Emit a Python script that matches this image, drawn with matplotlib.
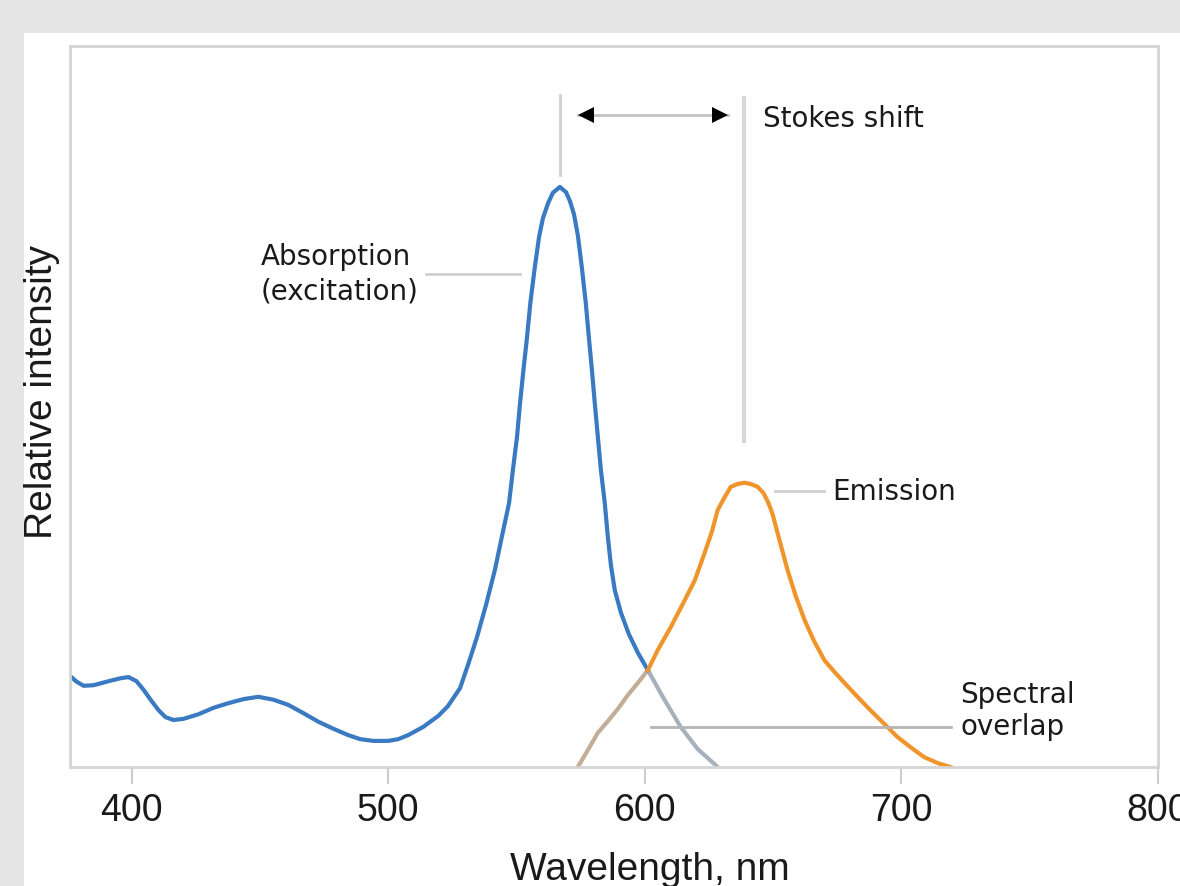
import matplotlib.pyplot as plt
from matplotlib.patches import Rectangle

plt.rcParams['font.family'] = ['Liberation Sans', 'DejaVu Sans']

# absorption (excitation) spectrum, peak = 1
abs_nm = [375.5, 378.6, 381.3, 385.2, 391.1, 395.7, 398.8, 401.9, 404.7, 407.4,
          410.5, 413.2, 416.3, 420.2, 426.1, 431.9, 437.7, 443.6, 449.4, 455.3,
          461.1, 466.9, 472.8, 478.6, 484.4, 489.1, 494.2, 500.0, 503.9, 507.8,
          513.6, 519.5, 523.3, 528.0, 531.1, 534.6, 538.1, 541.6, 544.3, 547.1,
          548.6, 550.2, 551.4, 552.7, 554.1, 555.4, 557.0, 558.8, 560.3, 562.3,
          564.2, 566.9, 569.3, 570.8, 572.4, 573.9, 575.5, 577.0, 578.2, 579.4,
          580.5, 581.7, 582.9, 584.4, 585.6, 586.8, 588.3, 590.7, 593.8, 597.3,
          601.2]
abs_val = [0.159, 0.147, 0.140, 0.141, 0.148, 0.153, 0.155, 0.148, 0.133, 0.116,
           0.098, 0.086, 0.081, 0.083, 0.091, 0.102, 0.110, 0.117, 0.121, 0.116,
           0.107, 0.093, 0.078, 0.066, 0.055, 0.048, 0.045, 0.045, 0.048, 0.055,
           0.069, 0.088, 0.105, 0.136, 0.176, 0.224, 0.279, 0.340, 0.397, 0.455,
           0.512, 0.569, 0.628, 0.684, 0.741, 0.800, 0.857, 0.914, 0.946, 0.972,
           0.990, 1.000, 0.991, 0.976, 0.953, 0.917, 0.860, 0.800, 0.741, 0.684,
           0.628, 0.569, 0.512, 0.455, 0.397, 0.348, 0.305, 0.266, 0.229, 0.197,
           0.167]
# absorption tail inside the overlap region
abs_tail_nm = [601.2, 607.0, 614.0, 620.6, 628.4]
abs_tail_val = [0.167, 0.121, 0.069, 0.031, 0.0]

# emission spectrum: rising edge inside the overlap, then the rest
emi_head_nm = [573.9, 577.8, 581.7, 585.6, 589.5, 593.4, 597.3, 601.2]
emi_head_val = [0.0, 0.029, 0.059, 0.079, 0.100, 0.124, 0.145, 0.167]
emi_nm = [601.2, 605.1, 610.1, 614.8, 619.5, 623.3, 626.1, 628.4, 631.1, 633.5,
          636.2, 638.9, 641.2, 644.0, 646.3, 648.2, 649.8, 651.4, 653.3, 655.6,
          658.8, 662.3, 666.1, 670.0, 673.9, 677.8, 682.9, 687.9, 693.4, 698.4,
          703.9, 708.9, 714.0, 719.1]
emi_val = [0.167, 0.202, 0.241, 0.281, 0.322, 0.369, 0.405, 0.443, 0.465, 0.483,
           0.488, 0.490, 0.488, 0.483, 0.472, 0.455, 0.436, 0.409, 0.378, 0.340,
           0.295, 0.253, 0.216, 0.184, 0.164, 0.145, 0.121, 0.098, 0.074, 0.052,
           0.033, 0.017, 0.007, 0.0]

abs_peak_nm = 566.9
emi_peak_nm = 638.5
shift_from, shift_to = 573.9, 632.3
xticks = [400, 500, 600, 700, 800]

blue = '#3a7ac2'
orange = '#f0952c'
leader = '#cfcfcf'
ink = '#1a1a1a'
lab = dict(fontsize=20, color=ink, family=['DejaVu Sans'], va='baseline', ha='left')

fig = plt.figure(figsize=(11.8, 8.86), dpi=100)
fig.patch.set_facecolor('#e5e5e5')
fig.add_artist(Rectangle((24 / 1180, 0), 1, 1 - 33 / 886, transform=fig.transFigure,
                         facecolor='white', edgecolor='none', zorder=0))

ax = fig.add_axes([70 / 1180, 1 - 767 / 886, 1088 / 1180, 721 / 886])
ax.set_xlim(376, 800)
ax.set_ylim(0, 1.243)

ax.plot(abs_tail_nm, abs_tail_val, color='#a5b1bd', lw=3, solid_capstyle='round')
ax.plot(emi_head_nm, emi_head_val, color='#c2ad97', lw=3, solid_capstyle='round')
ax.plot(abs_nm, abs_val, color=blue, lw=3, solid_joinstyle='round')
ax.plot(emi_nm, emi_val, color=orange, lw=3, solid_joinstyle='round')

# peak markers and the stokes shift arrow
ax.plot([abs_peak_nm, abs_peak_nm], [1.021, 1.159], color=leader, lw=2)
ax.plot([emi_peak_nm, emi_peak_nm], [0.562, 1.153], color='#d6d6d6', lw=3)
ax.plot([shift_from, shift_to], [1.124, 1.124], color='#c4c4c4', lw=2)
ax.plot([shift_from + 3.0], [1.124], marker='<', ms=11, color='black', mew=0)
ax.plot([shift_to - 3.0], [1.124], marker='>', ms=11, color='black', mew=0)
ax.text(645.9, 1.103, 'Stokes shift', **lab)

# labels with leader lines
ax.plot([514.8, 551.4], [0.850, 0.850], color=leader, lw=2)
ax.text(450.2, 0.8655, 'Absorption', **lab)
ax.text(450.2, 0.8052, '(excitation)', **lab)
ax.plot([650.6, 670.0], [0.476, 0.476], color=leader, lw=2)
ax.text(673.2, 0.4603, 'Emission', **lab)
ax.plot([602.3, 719.5], [0.069, 0.069], color='#b5b5b5', lw=2)
ax.text(723.0, 0.1103, 'Spectral', **lab)
ax.text(723.0, 0.0552, 'overlap', **lab)

for s in ax.spines.values():
    s.set_color('#d4d4d4')
    s.set_linewidth(2)
ax.set_yticks([])
ax.set_xticks(xticks)
ax.tick_params(axis='x', length=12, width=1.5, color='#cccccc', pad=7,
               labelsize=27, labelcolor=ink)

fig.text(650 / 1180, 1 - 880 / 886, 'Wavelength, nm', fontsize=28, color=ink,
         ha='center', va='baseline')
fig.text(42 / 1180, 1 - 392 / 886, 'Relative intensity', fontsize=28, color=ink,
         ha='center', va='center', rotation=90)

fig.savefig('out.png', dpi=100, facecolor=fig.get_facecolor())
